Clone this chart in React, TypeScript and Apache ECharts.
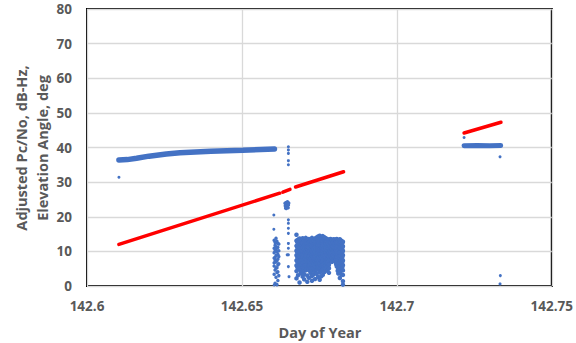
import React, { useEffect, useRef } from "react";
import * as echarts from "echarts";

const xTicks = [142.6, 142.65, 142.7, 142.75];
const yTicks = [0, 10, 20, 30, 40, 50, 60, 70, 80];
const xTitle = "Day of Year";
const yTitleLines = ["Adjusted Pc/No, dB-Hz,", "Elevation Angle, deg"];

// Adjusted Pc/No (blue) - steady tracking bands
const cnoBand1: [number, number][] = [
  [142.6103, 36.4], [142.6130, 36.5], [142.6160, 36.9], [142.6200, 37.5],
  [142.6256, 38.1], [142.6300, 38.5], [142.6400, 38.9], [142.6502, 39.2],
  [142.6605, 39.6],
];
const cnoBand2: [number, number][] = [
  [142.7217, 40.5], [142.7260, 40.6], [142.7300, 40.5], [142.7335, 40.6],
];
// Adjusted Pc/No isolated points
const cnoDots: [number, number][] = [
  [142.6103, 31.4], [142.7217, 42.9], [142.7333, 37.3], [142.7334, 3.0], [142.7333, 0.6],
  [142.6650, 40.2], [142.6650, 39.3], [142.6650, 38.3], [142.6650, 36.2], [142.6650, 35.0],
  [142.6650, 19.1], [142.6650, 18.1], [142.6650, 16.7], [142.6650, 15.2], [142.6650, 12.3],
  [142.6650, 10.9], [142.6650, 9.0], [142.6650, 5.6], [142.6646, 9.0], [142.6652, 2.7],
  [142.6603, 20.5], [142.6603, 16.4], [142.6604, 0.3],
];
// Adjusted Pc/No cluster near 23 dB-Hz
const cnoCluster: [number, number][] = [
  [142.6640, 23.2], [142.6643, 24.1], [142.6646, 22.8], [142.6648, 23.6], [142.6641, 22.5],
  [142.6645, 23.9], [142.6649, 22.6], [142.6642, 23.8], [142.6647, 24.3], [142.6644, 23.0],
  [142.6650, 23.4], [142.6639, 23.9], [142.6651, 24.0], [142.6643, 22.4],
];
// Adjusted Pc/No noisy region, per time column
const cnoNoiseLeft: [number, number[]][] = [
  [142.6604, [13.2, 10.9, 9.6, 8.1, 5.8, 3.4, 6.7]],
  [142.6607, [11.8, 10.1, 8.2, 7.5, 4.6, 0.8, 12.6]],
  [142.6610, [12.5, 10.4, 8.8, 6.9, 5.2, 2.5, 13.8, 11.3]],
  [142.6613, [12.9, 9.9, 7.3, 5.3, 3.9, 0.4, 11.0]],
  [142.6616, [11.2, 7.8, 4.1, 1.6, 9.2, 12.3, 6.1]],
  [142.6619, [12.1, 10.2, 6.4, 8.5, 3.0]],
];
const cnoNoiseBlock: [number, number[]][] = [
  [142.6676, [14.8, 13.1, 11.6, 10.2, 8.9, 7.4, 5.9, 4.3, 2.2]],
  [142.6679, [12.6, 11.1, 9.7, 8.2, 6.9, 5.4]],
  [142.6681, [13.4, 12.2, 10.8, 9.5, 8.1, 6.6, 5.2, 3.1]],
  [142.6684, [13.1, 11.9, 10.2, 8.7, 7.6, 6.0]],
  [142.6686, [13.7, 12.6, 11.3, 9.9, 8.6, 7.2, 6.1, 4.8, 1.0]],
  [142.6689, [12.3, 11.0, 9.5, 8.3, 7.0, 5.6, 4.2]],
  [142.6691, [12.9, 11.9, 10.4, 9.1, 7.7, 6.3, 5.0, 3.6]],
  [142.6694, [13.2, 11.7, 10.3, 8.9, 7.5, 6.1]],
  [142.6696, [13.8, 12.4, 11.0, 9.7, 8.3, 6.8, 5.5, 4.1, 2.7]],
  [142.6699, [12.8, 11.3, 10.0, 8.6, 7.3, 5.9, 4.6]],
  [142.6701, [13.2, 11.7, 10.6, 9.3, 7.9, 6.5, 5.3, 3.4, 1.9]],
  [142.6704, [13.5, 12.2, 10.8, 9.5, 8.0, 6.2]],
  [142.6706, [13.9, 12.8, 11.4, 10.0, 8.7, 7.0, 5.7, 4.5]],
  [142.6709, [12.9, 11.5, 10.2, 8.8, 7.5, 6.0, 4.8]],
  [142.6711, [13.5, 12.1, 10.9, 9.6, 8.2, 6.9, 5.4, 3.0, 1.2]],
  [142.6714, [13.0, 11.6, 10.3, 8.9, 7.6, 6.3]],
  [142.6716, [13.6, 12.5, 11.2, 9.8, 8.4, 7.1, 5.8, 4.6, 2.4]],
  [142.6719, [12.7, 11.4, 10.1, 8.6, 7.3, 5.9]],
  [142.6721, [13.0, 11.8, 10.5, 9.2, 7.8, 6.4, 5.1, 3.8]],
  [142.6724, [13.3, 12.1, 10.7, 9.3, 8.1, 6.7, 5.3]],
  [142.6726, [13.9, 12.7, 11.5, 10.1, 8.8, 7.3, 6.0, 4.4, 2.9, 1.5]],
  [142.6729, [12.6, 11.2, 9.8, 8.5, 7.0, 5.7]],
  [142.6731, [13.3, 12.0, 10.7, 9.4, 8.0, 6.7, 5.2, 3.3]],
  [142.6734, [13.0, 11.6, 10.2, 8.8, 7.4, 6.1, 4.7]],
  [142.6736, [13.7, 12.3, 11.1, 9.9, 8.5, 7.0, 5.6, 4.2, 2.0]],
  [142.6739, [13.4, 12.0, 10.6, 9.2, 7.8, 6.5]],
  [142.6741, [14.0, 12.9, 11.6, 10.3, 8.9, 7.5, 6.2, 4.7, 3.5]],
  [142.6744, [13.6, 12.2, 10.9, 9.5, 8.1, 6.8, 5.4]],
  [142.6746, [14.3, 13.0, 11.8, 10.4, 9.0, 7.6, 6.1, 4.9, 2.6]],
  [142.6749, [13.8, 12.4, 11.1, 9.8, 8.4, 7.0, 5.6]],
  [142.6751, [14.5, 13.2, 11.9, 10.6, 9.2, 7.8, 6.4, 5.0, 3.9, 1.8]],
  [142.6754, [13.6, 12.3, 10.8, 9.5, 8.0, 6.7, 5.2]],
  [142.6756, [14.2, 12.8, 11.4, 10.0, 8.6, 7.2, 5.8, 4.3, 2.8]],
  [142.6759, [13.7, 12.4, 11.0, 9.6, 8.2, 6.9, 5.5]],
  [142.6761, [14.4, 13.1, 11.7, 10.2, 8.8, 7.4, 6.0, 4.6, 3.2]],
  [142.6764, [13.5, 12.0, 10.6, 9.3, 7.9, 6.4, 5.0]],
  [142.6766, [14.1, 12.6, 11.3, 9.9, 8.5, 7.1, 5.5, 4.0]],
  [142.6769, [13.2, 11.9, 10.5, 9.1, 7.7, 6.2]],
  [142.6771, [13.8, 12.4, 11.1, 9.7, 8.3, 6.9, 5.9, 5.0]],
  [142.6774, [13.0, 11.7, 10.3, 8.9, 7.6, 6.5]],
  [142.6776, [13.5, 12.2, 10.9, 9.5, 8.2, 7.0, 6.3, 4.4]],
  [142.6779, [12.9, 11.6, 10.2, 8.8, 7.7, 5.7]],
  [142.6781, [13.4, 12.0, 10.8, 9.6, 8.4, 7.3, 6.2, 5.1, 3.8]],
  [142.6784, [12.8, 11.5, 10.3, 9.0, 7.9]],
  [142.6786, [13.6, 12.3, 11.0, 9.8, 8.6, 7.5]],
  [142.6789, [12.9, 11.7, 10.4, 9.1, 7.8]],
  [142.6791, [13.3, 12.1, 10.7, 9.4, 8.1, 7.0]],
  [142.6794, [12.8, 11.6, 10.3, 9.0, 7.7]],
  [142.6796, [13.5, 12.4, 11.2, 9.9, 8.5, 7.3]],
  [142.6799, [12.9, 11.7, 10.4, 9.1, 7.8]],
  [142.6801, [13.4, 12.2, 10.9, 9.6, 8.3, 7.1]],
  [142.6804, [12.9, 11.6, 10.3, 9.0, 7.7, 6.3]],
  [142.6806, [13.6, 12.5, 11.1, 9.7, 8.4, 6.9, 5.6]],
  [142.6809, [12.7, 11.4, 10.1, 8.8, 7.4, 5.9, 4.4]],
  [142.6811, [13.2, 12.0, 10.8, 9.5, 8.2, 6.6, 5.1, 3.6]],
  [142.6814, [12.8, 11.6, 10.3, 8.9, 7.5, 6.1, 4.7]],
  [142.6816, [13.5, 12.3, 11.0, 9.6, 8.1, 6.7, 5.4, 4.0, 2.3]],
  [142.6819, [12.6, 11.3, 9.9, 8.6, 7.2, 5.8, 4.3]],
  [142.6821, [13.1, 11.9, 10.6, 9.3, 7.9, 6.5, 5.0, 3.3]],
  [142.6824, [12.4, 11.0, 9.7, 8.2, 6.8, 5.3]],
  [142.6826, [12.8, 11.5, 10.2, 8.9, 7.4, 6.0, 4.5, 3.2, 1.4, 0.4]],
];

// Elevation angle (red)
const elevSeg1: [number, number][] = [[142.6103, 12.0], [142.6622, 26.8]];
const elevSeg2: [number, number][] = [[142.6632, 27.1], [142.6655, 27.9]];
const elevSeg3: [number, number][] = [[142.6673, 28.6], [142.6828, 33.0]];
const elevSeg4: [number, number][] = [[142.7217, 44.2], [142.7336, 47.3]];

const BLUE = "#4472C4";
const RED = "#FF0000";
const TEXT = "#595959";
const FONT = "Open Sans";

function flatten(cols: [number, number[]][]): [number, number][] {
  const out: [number, number][] = [];
  cols.forEach(([x, ys]) => ys.forEach((y) => out.push([x, y])));
  return out;
}

export default function App() {
  const ref = useRef<HTMLDivElement>(null);
  useEffect(() => {
    if (!ref.current) return;
    const chart = echarts.init(ref.current, undefined, { renderer: "svg" });
    const lineSeries = (data: [number, number][], color: string, width: number) => ({
      type: "line",
      data,
      showSymbol: false,
      symbol: "none",
      lineStyle: { color, width, cap: "round" },
      silent: true,
      z: 3,
    });
    const scatterSeries = (data: [number, number][], size: number) => ({
      type: "scatter",
      data,
      symbol: "circle",
      symbolSize: size,
      itemStyle: { color: BLUE, opacity: 1 },
      silent: true,
      z: 2,
    });
    chart.setOption({
      animation: false,
      backgroundColor: "#ffffff",
      grid: {
        left: 87,
        right: 23,
        top: 9,
        bottom: 57,
        show: true,
        borderColor: "#000000",
        borderWidth: 2,
        backgroundColor: "transparent",
      },
      xAxis: {
        type: "value",
        min: xTicks[0],
        max: xTicks[xTicks.length - 1],
        interval: 0.05,
        axisLine: { show: false },
        axisTick: { show: false },
        splitLine: { show: true, lineStyle: { color: "#d9d9d9", width: 1.3 } },
        axisLabel: {
          color: TEXT,
          fontFamily: FONT,
          fontWeight: "bold",
          fontSize: 13.5,
          margin: 13,
          formatter: (v: number) => {
            const t = xTicks.find((k) => Math.abs(k - v) < 1e-6);
            return t !== undefined ? String(t) : "";
          },
        },
      },
      yAxis: {
        type: "value",
        min: yTicks[0],
        max: yTicks[yTicks.length - 1],
        interval: 10,
        axisLine: { show: false },
        axisTick: { show: false },
        splitLine: { show: true, lineStyle: { color: "#d9d9d9", width: 1.3 } },
        axisLabel: {
          color: TEXT,
          fontFamily: FONT,
          fontWeight: "bold",
          fontSize: 13.5,
          margin: 15,
        },
      },
      graphic: [
        {
          type: "text",
          x: 320,
          y: 332,
          style: {
            text: xTitle,
            fill: TEXT,
            font: `bold 14.5px '${FONT}'`,
            textAlign: "center",
            textVerticalAlign: "middle",
          },
        },
        {
          type: "text",
          x: 32,
          y: 148,
          rotation: Math.PI / 2,
          style: {
            text: yTitleLines.join("\n"),
            fill: TEXT,
            font: `bold 14.5px '${FONT}'`,
            lineHeight: 21,
            textAlign: "center",
            textVerticalAlign: "middle",
          },
        },
      ],
      series: [
        lineSeries(cnoBand1, BLUE, 5.5),
        lineSeries(cnoBand2, BLUE, 5),
        scatterSeries(cnoDots, 3),
        scatterSeries(cnoCluster, 3.5),
        scatterSeries(flatten(cnoNoiseLeft), 3.5),
        scatterSeries(flatten(cnoNoiseBlock), 4.5),
        { ...lineSeries(elevSeg1, RED, 3.5), z: 4 },
        { ...lineSeries(elevSeg2, RED, 3.5), z: 4 },
        { ...lineSeries(elevSeg3, RED, 3.5), z: 4 },
        { ...lineSeries(elevSeg4, RED, 3.5), z: 4 },
      ],
    });
    return () => chart.dispose();
  }, []);
  return <div ref={ref} style={{ width: 576, height: 343, position: "absolute", left: 0, top: 0 }} />;
}
